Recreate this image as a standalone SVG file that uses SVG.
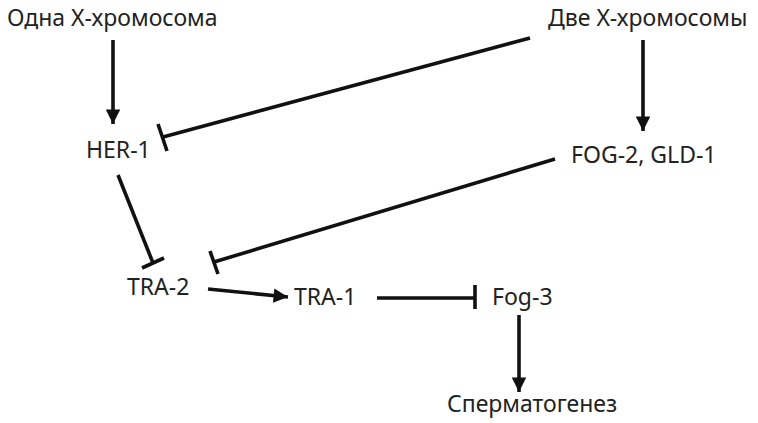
<svg xmlns="http://www.w3.org/2000/svg" width="758" height="423" viewBox="0 0 758 423">
<defs>
<marker id="arr" viewBox="0 0 10 10" refX="10" refY="5" markerWidth="4.6" markerHeight="4" markerUnits="strokeWidth" orient="auto">
<path d="M0,0 L10,5 L0,10 Z" fill="#111"/>
</marker>
</defs>
<style>
text{font-family:"Noto Sans","DejaVu Sans",sans-serif;font-size:23px;fill:#222}
.ln{stroke:#111;stroke-width:3.6;fill:none}
</style>
<rect width="758" height="423" fill="#fff"/>
<g id="n1"><text x="7" y="26">Одна Х-хромосома</text></g>
<g id="n2"><text x="548" y="26">Две Х-хромосомы</text></g>
<g id="n3"><text x="86" y="158">HER-1</text></g>
<g id="n4"><text x="571" y="163">FOG-2, GLD-1</text></g>
<g id="n5"><text x="127" y="295">TRA-2</text></g>
<g id="n6"><text x="294" y="305">TRA-1</text></g>
<g id="n7"><text x="492" y="305">Fog-3</text></g>
<g id="n8"><text x="447" y="412">Сперматогенез</text></g>
<g id="connectors">
<line class="ln" x1="113" y1="40" x2="113" y2="124" marker-end="url(#arr)"/>
<line class="ln" x1="643" y1="40" x2="643" y2="131" marker-end="url(#arr)"/>
<line class="ln" x1="530" y1="38" x2="163" y2="137"/>
<line class="ln" x1="158" y1="124" x2="167" y2="151"/>
<line class="ln" x1="555" y1="159" x2="214" y2="262"/>
<line class="ln" x1="210" y1="251" x2="218" y2="274"/>
<line class="ln" x1="118" y1="175" x2="153" y2="263"/>
<line class="ln" x1="142" y1="268" x2="164" y2="258"/>
<line class="ln" x1="208" y1="289" x2="288" y2="297" marker-end="url(#arr)"/>
<line class="ln" x1="377" y1="298" x2="475" y2="298"/>
<line class="ln" x1="475" y1="285" x2="475" y2="309"/>
<line class="ln" x1="519" y1="315" x2="519" y2="392" marker-end="url(#arr)"/>
</g>
</svg>
